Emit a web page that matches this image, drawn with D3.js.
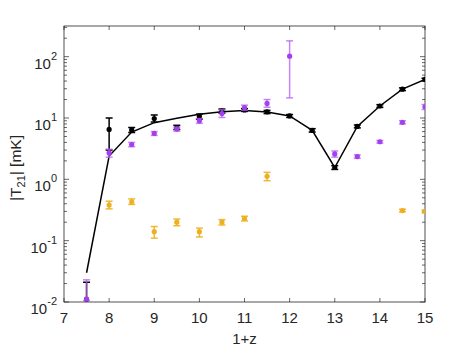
<!DOCTYPE html>
<html>
<head>
<meta charset="utf-8">
<script src="https://cdn.jsdelivr.net/npm/d3@7"></script>
<style>
  body { margin: 0; background: #fff; }
  text { font-family: "Liberation Sans", Arial, sans-serif; }
</style>
</head>
<body>
<script>
// redshift grid (1+z)
const lineX = [7.5, 8, 8.5, 9, 9.5, 10, 10.5, 11, 11.5, 12, 12.5, 13, 13.5, 14, 14.5, 15];
const lineY = [0.03, 2.4, 5.9, 8.4, 9.9, 11.5, 12.6, 13.3, 12.5, 10.8, 6.3, 1.56, 7.3, 15.7, 29.5, 42.5];

// black points [x, y, lo, hi]
const blackPts = [
    [7.5, 0.011, 0.005, 0.021],
    [8, 6.5, 3.0, 10.0],
    [8.5, 6.4, 5.8, 7.0],
    [9, 9.8, 8.6, 11.2],
    [9.5, 7.0, 6.5, 7.6],
    [10, 10.6, 9.6, 11.6],
    [10.5, 13.0, 12.0, 14.0],
    [11, 13.5, 12.8, 14.2],
    [11.5, 12.6, 11.8, 13.3],
    [12, 10.8, 10.2, 11.4],
    [12.5, 6.3, 5.9, 6.7],
    [13, 1.56, 1.45, 1.67],
    [13.5, 7.3, 6.9, 7.7],
    [14, 15.7, 14.9, 16.5],
    [14.5, 29.5, 28.0, 31.0],
    [15, 42.5, 40.5, 44.5]
];

// purple points [x, y, lo, hi]
const purplePts = [
    [7.5, 0.0112, 0.0105, 0.023],
    [8, 2.7, 2.3, 3.1],
    [8.5, 3.7, 3.4, 4.0],
    [9, 5.6, 5.2, 6.0],
    [9.5, 6.6, 6.1, 7.1],
    [10, 9.0, 8.2, 9.8],
    [10.5, 11.8, 10.2, 13.6],
    [11, 14.8, 13.4, 16.2],
    [11.5, 17.3, 15.0, 20.0],
    [12, 102, 21.3, 181],
    [13, 2.6, 2.3, 2.9],
    [13.5, 2.35, 2.2, 2.5],
    [14, 4.1, 3.9, 4.3],
    [14.5, 8.5, 8.0, 9.0],
    [15, 15.2, 13.8, 16.6]
];

// orange points [x, y, lo, hi]
const orangePts = [
    [8, 0.38, 0.33, 0.44],
    [8.5, 0.43, 0.39, 0.48],
    [9, 0.14, 0.11, 0.17],
    [9.5, 0.20, 0.175, 0.225],
    [10, 0.14, 0.115, 0.16],
    [10.5, 0.20, 0.18, 0.22],
    [11, 0.23, 0.21, 0.25],
    [11.5, 1.12, 0.95, 1.3],
    [14.5, 0.31, 0.295, 0.325],
    [15, 0.30, 0.285, 0.315]
];

const xTicks = [7, 8, 9, 10, 11, 12, 13, 14, 15];
const yTicks = [1e-2, 1e-1, 1e0, 1e1, 1e2];
const yExps = ["-2", "-1", "0", "1", "2"];

const w = 471, h = 348;
const margin = { top: 26, right: 46, bottom: 46, left: 64 };
const innerWidth = w - margin.left - margin.right;
const innerHeight = h - margin.top - margin.bottom;

const svg = d3.select("body").append("svg")
    .attr("width", w)
    .attr("height", h);

const xScale = d3.scaleLinear().domain([7, 15]).range([0, innerWidth]);
const yScale = d3.scaleLog().domain([1e-2, Math.pow(10, 2.5)]).range([innerHeight, 0]);

const g = svg.append("g")
    .attr("transform", `translate(${margin.left},${margin.top})`);

const axisColor = "#262626";

// minor log ticks
let minor = [];
for (let e = -2; e <= 2; e++) {
    for (let k = 1; k <= 9; k++) {
        const v = k * Math.pow(10, e);
        if (v <= Math.pow(10, 2.5)) minor.push(v);
    }
}

// frame
g.append("rect")
    .attr("width", innerWidth)
    .attr("height", innerHeight)
    .attr("fill", "none")
    .attr("stroke", axisColor)
    .attr("stroke-width", 0.8);

// ticks left/right
minor.forEach(v => {
    const len = (v === 1e-2 || v === 1e-1 || v === 1 || v === 10 || v === 100) ? 5 : 3;
    const y = yScale(v);
    g.append("line").attr("x1", 0).attr("x2", len).attr("y1", y).attr("y2", y)
        .attr("stroke", axisColor).attr("stroke-width", 0.7);
    g.append("line").attr("x1", innerWidth).attr("x2", innerWidth - len).attr("y1", y).attr("y2", y)
        .attr("stroke", axisColor).attr("stroke-width", 0.7);
});

// ticks top/bottom + labels
xTicks.forEach(v => {
    const x = xScale(v);
    g.append("line").attr("x1", x).attr("x2", x).attr("y1", innerHeight).attr("y2", innerHeight - 4)
        .attr("stroke", axisColor).attr("stroke-width", 0.7);
    g.append("line").attr("x1", x).attr("x2", x).attr("y1", 0).attr("y2", 4)
        .attr("stroke", axisColor).attr("stroke-width", 0.7);
    g.append("text")
        .attr("x", x)
        .attr("y", innerHeight + 21)
        .attr("text-anchor", "middle")
        .attr("font-size", 15)
        .attr("fill", axisColor)
        .text(v);
});

// y tick labels 10^n
yTicks.forEach((v, i) => {
    const t = g.append("text")
        .attr("x", -7)
        .attr("y", yScale(v) + 12)
        .attr("text-anchor", "end")
        .attr("font-size", 15)
        .attr("fill", axisColor);
    t.append("tspan").text("10");
    t.append("tspan").attr("dy", -9).attr("font-size", 11).text(yExps[i]);
});

// axis labels
svg.append("text")
    .attr("x", margin.left + innerWidth / 2)
    .attr("y", 344)
    .attr("text-anchor", "middle")
    .attr("font-size", 15)
    .attr("fill", axisColor)
    .text("1+z");

const yl = svg.append("text")
    .attr("transform", `translate(21,${margin.top + 142}) rotate(-90)`)
    .attr("text-anchor", "middle")
    .attr("font-size", 15.5)
    .attr("fill", axisColor);
yl.append("tspan").text("|T");
yl.append("tspan").attr("dy", 4).attr("font-size", 11).text("21");
yl.append("tspan").attr("dy", -4).text("| [mK]");

// clip for data
svg.append("clipPath").attr("id", "clip")
    .append("rect").attr("width", innerWidth).attr("height", innerHeight);
const plot = g.append("g").attr("clip-path", "url(#clip)");

// draws error bars and markers
function drawSeries(data, markColor, barColor, barOpacity) {
    const s = plot.append("g");
    data.forEach(d => {
        const x = xScale(d[0]);
        const lo = yScale(d[2]), hi = yScale(d[3]);
        s.append("line").attr("x1", x).attr("x2", x).attr("y1", lo).attr("y2", hi)
            .attr("stroke", barColor).attr("stroke-opacity", barOpacity).attr("stroke-width", 1.5);
        [lo, hi].forEach(yy => {
            s.append("line").attr("x1", x - 3.5).attr("x2", x + 3.5).attr("y1", yy).attr("y2", yy)
                .attr("stroke", barColor).attr("stroke-opacity", barOpacity).attr("stroke-width", 1.5);
        });
    });
    s.selectAll("circle")
        .data(data)
        .enter()
        .append("circle")
        .attr("cx", d => xScale(d[0]))
        .attr("cy", d => yScale(d[1]))
        .attr("r", 2.6)
        .attr("fill", markColor);
}

drawSeries(blackPts, "#000", "#000", 1);

// model line
const lineData = lineX.map((x, i) => [x, lineY[i]]);
plot.append("path")
    .datum(lineData)
    .attr("fill", "none")
    .attr("stroke", "#000")
    .attr("stroke-width", 1.5)
    .attr("d", d3.line().x(d => xScale(d[0])).y(d => yScale(d[1])));

drawSeries(purplePts, "#a43ff0", "#b45cf5", 0.75);
drawSeries(orangePts, "#edb120", "#edb120", 0.9);
</script>
</body>
</html>
